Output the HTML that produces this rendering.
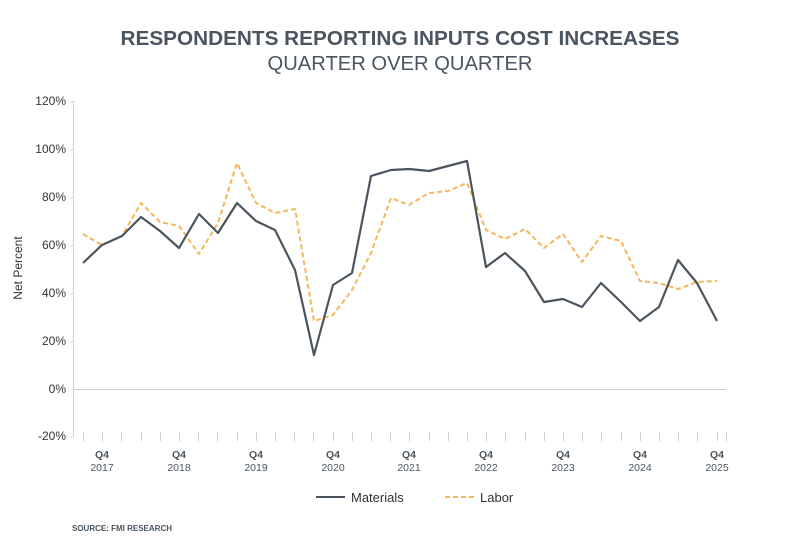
<!DOCTYPE html>
<html><head><style>
body{margin:0;background:#fff;}
svg{display:block;font-family:"Liberation Sans",sans-serif;}
</style></head><body>
<svg width="800" height="553" viewBox="0 0 800 553" xmlns="http://www.w3.org/2000/svg">
<text x="400" y="45" text-anchor="middle" font-size="20.5" font-weight="bold" fill="#4a5560" textLength="559" lengthAdjust="spacingAndGlyphs">RESPONDENTS REPORTING INPUTS COST INCREASES</text>
<text x="400" y="70" text-anchor="middle" font-size="20" fill="#4a5560" textLength="265" lengthAdjust="spacingAndGlyphs" style="font-weight:300">QUARTER OVER QUARTER</text>
<g font-size="12" fill="#333" text-anchor="end">
<text x="66" y="105">120%</text>
<text x="66" y="153">100%</text>
<text x="66" y="201">80%</text>
<text x="66" y="249">60%</text>
<text x="66" y="297">40%</text>
<text x="66" y="345">20%</text>
<text x="66" y="393">0%</text>
<text x="66" y="440">-20%</text>
</g>
<text transform="translate(22,268) rotate(-90)" text-anchor="middle" font-size="12" fill="#333">Net Percent</text>
<g stroke="#cfcfcf" stroke-width="1">
<line x1="73.5" y1="101" x2="73.5" y2="437"/>
<line x1="71" y1="101.5" x2="73" y2="101.5"/>
<line x1="71" y1="149.5" x2="73" y2="149.5"/>
<line x1="71" y1="197.5" x2="73" y2="197.5"/>
<line x1="71" y1="245.5" x2="73" y2="245.5"/>
<line x1="71" y1="293.5" x2="73" y2="293.5"/>
<line x1="71" y1="341.5" x2="73" y2="341.5"/>
<line x1="71" y1="437.5" x2="73" y2="437.5"/>
<line x1="73" y1="389.5" x2="726" y2="389.5"/>
</g>
<g id="ticks" stroke="#cfcfcf" stroke-width="1"></g>
<g font-size="10.5" font-weight="bold" fill="#4a5560" text-anchor="middle">
<text x="102" y="458">Q4</text><text x="179" y="458">Q4</text><text x="256" y="458">Q4</text><text x="333" y="458">Q4</text><text x="409" y="458">Q4</text><text x="486" y="458">Q4</text><text x="563" y="458">Q4</text><text x="640" y="458">Q4</text><text x="717" y="458">Q4</text>
</g>
<g font-size="10.5" fill="#4a5560" text-anchor="middle">
<text x="102" y="471">2017</text><text x="179" y="471">2018</text><text x="256" y="471">2019</text><text x="333" y="471">2020</text><text x="409" y="471">2021</text><text x="486" y="471">2022</text><text x="563" y="471">2023</text><text x="640" y="471">2024</text><text x="717" y="471">2025</text>
</g>
<polyline fill="none" stroke="#f5b75a" stroke-width="2" stroke-dasharray="5,3" stroke-linejoin="round" points="83,234 102,245 122,236 141,203 160,222 179,226 199,254 218,223 237,163 256,203 275,213 295,209 314,321 333,315 352,290 371,253 391,198 409,205 429,193 448,191 467,183 486,230 505,239 525,229 544,248 563,234 582,262 601,236 621,241 640,281 659,283 678,289 697,282 717,281"/>
<polyline fill="none" stroke="#4a5560" stroke-width="2.2" stroke-linejoin="round" points="83,263 102,245 122,236 141,217 160,231 179,248 199,214 218,233 237,203 256,221 275,230 295,270 314,355 333,285 352,273 371,176 391,170 409,169 429,171 448,166 467,161 486,267 505,253 525,271 544,302 563,299 582,307 601,283 621,302 640,321 659,307 678,260 697,283 717,321"/>
<line x1="316" y1="497" x2="345" y2="497" stroke="#4a5560" stroke-width="2"/>
<text x="351" y="502" font-size="13" fill="#333">Materials</text>
<line x1="445" y1="497" x2="474" y2="497" stroke="#f5b75a" stroke-width="2" stroke-dasharray="5,3"/>
<text x="480" y="502" font-size="13" fill="#333">Labor</text>
<text x="72" y="531" font-size="8" font-weight="bold" fill="#4a5560">SOURCE: FMI RESEARCH</text>
</svg>
<script>
var g=document.getElementById('ticks');var s='';
for(var i=0;i<34;i++){var x=Math.round(83+i*19.2)+0.5;s+='<line x1="'+x+'" y1="432" x2="'+x+'" y2="441"/>';}
var x2=726.5;s+='<line x1="'+x2+'" y1="432" x2="'+x2+'" y2="441"/>';
g.innerHTML=s;
</script>
</body></html>
